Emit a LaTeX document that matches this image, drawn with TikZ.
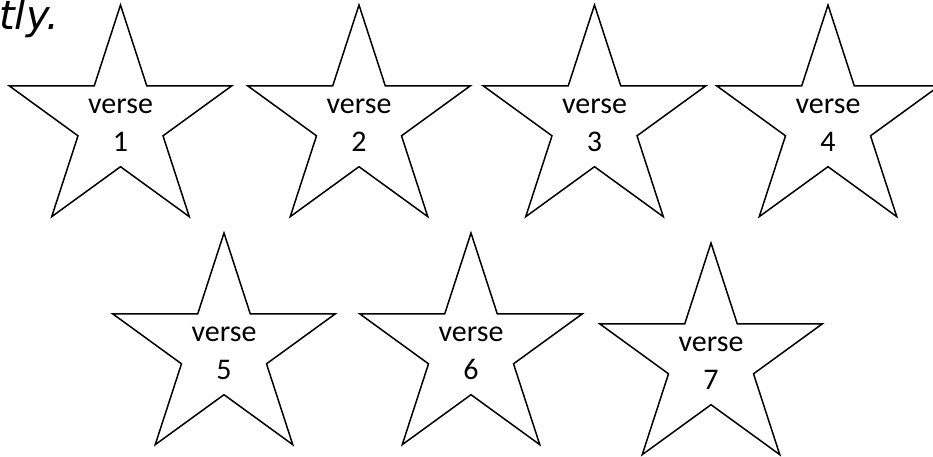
\documentclass[tikz,border=0pt]{standalone}
\usepackage{fontspec}
\setmainfont{Carlito}
\newfontfamily\noteFont{DejaVu Sans}
\usetikzlibrary{shapes.geometric}

\begin{document}
\begin{tikzpicture}[
    x=1pt, y=-1pt,
    verseStar/.style={star, star points=5, star point ratio=2.618, draw=black, line width=1.5pt, minimum size=234pt, inner sep=0pt},
    verseLabel/.style={align=center, font=\fontsize{30}{38}\selectfont, inner sep=0pt, yshift=-3pt}
]
    % Area del disegno
    \useasboundingbox (0, 0) rectangle (933, 456);

    % Resto della frase sopra le stelle
    \node[anchor=base west, inner sep=0pt, font=\noteFont\itshape\fontsize{40}{48}\selectfont] (tail) at (-1, 29) {tly.};

    % Prima fila di stelle
    \node[verseStar] (star1) at (120.5, 122) {};
    \node[verseStar] (star2) at (359, 122) {};
    \node[verseStar] (star3) at (594.5, 122) {};
    \node[verseStar] (star4) at (828, 122) {};

    % Seconda fila di stelle
    \node[verseStar] (star5) at (224, 350) {};
    \node[verseStar] (star6) at (471, 350) {};
    \node[verseStar] (star7) at (711, 360) {};

    % Testi dentro le stelle
    \node[verseLabel] (verse1) at (star1.center) {verse\\1};
    \node[verseLabel] (verse2) at (star2.center) {verse\\2};
    \node[verseLabel] (verse3) at (star3.center) {verse\\3};
    \node[verseLabel] (verse4) at (star4.center) {verse\\4};
    \node[verseLabel] (verse5) at (star5.center) {verse\\5};
    \node[verseLabel] (verse6) at (star6.center) {verse\\6};
    \node[verseLabel] (verse7) at (star7.center) {verse\\7};
\end{tikzpicture}
\end{document}
